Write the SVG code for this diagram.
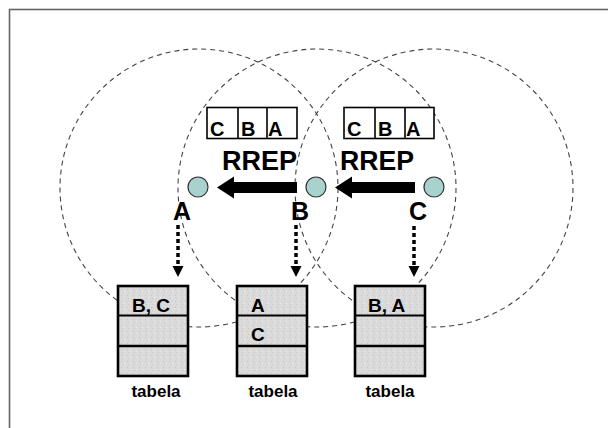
<svg xmlns="http://www.w3.org/2000/svg" width="608" height="428" viewBox="0 0 608 428">
<style>
.range{fill:none;stroke:#444;stroke-width:1.1;stroke-dasharray:5 4}
.node{fill:#a8d2cd;stroke:#333;stroke-width:1.2}
.pkt{fill:#fff;stroke:#000;stroke-width:1.6}
.tbl{fill:url(#spk);stroke:#000;stroke-width:2.6}
.t{font-family:"Liberation Sans",Arial,sans-serif;font-weight:bold;fill:#000}
.big{font-size:27px}
.lbl{font-size:25px}
.cell{font-size:20px}
.row{font-size:19px}
.cap{font-size:17px;text-anchor:middle}
.dot{stroke:#000;stroke-width:3.5;stroke-dasharray:4 3;fill:none}
</style>
<defs>
<pattern id="spk" width="6" height="6" patternUnits="userSpaceOnUse">
<rect width="6" height="6" fill="#dadada"/>
<rect x="1" y="1" width="1" height="1" fill="#c4c4c4"/>
<rect x="4" y="3" width="1" height="1" fill="#eeeeee"/>
<rect x="2" y="4" width="1" height="1" fill="#c8c8c8"/>
</pattern>
</defs>
<rect x="9.5" y="9.5" width="640" height="460" fill="#fff" stroke="#666" stroke-width="1.6"/>
<g id="ranges">
<circle class="range" cx="199" cy="188" r="139"/>
<circle class="range" cx="317" cy="188" r="139"/>
<circle class="range" cx="434" cy="188" r="139"/>
</g>
<g id="connectors">
<polygon points="217,187.5 234,176.5 234,182 297,182 297,193 234,193 234,198.5" fill="#000"/>
<polygon points="335,187.5 352,176.5 352,182 415,182 415,193 352,193 352,198.5" fill="#000"/>
<line class="dot" x1="178" y1="225" x2="178" y2="267"/>
<polygon points="172.5,266 183.5,266 178,277" fill="#000"/>
<line class="dot" x1="296" y1="225" x2="296" y2="267"/>
<polygon points="290.5,266 301.5,266 296,277" fill="#000"/>
<line class="dot" x1="414" y1="226" x2="414" y2="267"/>
<polygon points="408.5,266 419.5,266 414,277" fill="#000"/>
</g>
<g id="packet1">
<rect class="pkt" x="207" y="107.5" width="90" height="31"/>
<line x1="238" y1="107.5" x2="238" y2="138.5" stroke="#000" stroke-width="1.6"/>
<line x1="267" y1="107.5" x2="267" y2="138.5" stroke="#000" stroke-width="1.6"/>
<text class="t cell" x="210" y="136">C</text>
<text class="t cell" x="241" y="136">B</text>
<text class="t cell" x="268" y="136">A</text>
</g>
<g id="packet2">
<rect class="pkt" x="344" y="107.5" width="90" height="31"/>
<line x1="375" y1="107.5" x2="375" y2="138.5" stroke="#000" stroke-width="1.6"/>
<line x1="405" y1="107.5" x2="405" y2="138.5" stroke="#000" stroke-width="1.6"/>
<text class="t cell" x="347" y="136">C</text>
<text class="t cell" x="378" y="136">B</text>
<text class="t cell" x="406" y="136">A</text>
</g>
<g id="rrep1"><text class="t big" x="222" y="170" textLength="75" lengthAdjust="spacingAndGlyphs">RREP</text></g>
<g id="rrep2"><text class="t big" x="340" y="170" textLength="74" lengthAdjust="spacingAndGlyphs">RREP</text></g>
<g id="nodeA">
<circle class="node" cx="198" cy="187" r="10"/>
<text class="t lbl" x="182" y="220" text-anchor="middle">A</text>
</g>
<g id="nodeB">
<circle class="node" cx="316" cy="187" r="10"/>
<text class="t lbl" x="300" y="220" text-anchor="middle">B</text>
</g>
<g id="nodeC">
<circle class="node" cx="434" cy="187" r="10"/>
<text class="t lbl" x="418" y="220" text-anchor="middle">C</text>
</g>
<g id="tableA">
<rect class="tbl" x="118" y="286" width="70" height="90"/>
<line x1="118" y1="315.5" x2="188" y2="315.5" stroke="#000" stroke-width="2"/>
<line x1="118" y1="346" x2="188" y2="346" stroke="#000" stroke-width="2.6"/>
<text class="t row" x="132" y="312">B, C</text>
<text class="t cap" x="156" y="397">tabela</text>
</g>
<g id="tableB">
<rect class="tbl" x="237" y="286" width="70" height="90"/>
<line x1="237" y1="315.5" x2="307" y2="315.5" stroke="#000" stroke-width="2"/>
<line x1="237" y1="346" x2="307" y2="346" stroke="#000" stroke-width="2.6"/>
<text class="t row" x="251" y="312">A</text>
<text class="t row" x="251" y="341">C</text>
<text class="t cap" x="273" y="397">tabela</text>
</g>
<g id="tableC">
<rect class="tbl" x="355" y="286" width="70" height="90"/>
<line x1="355" y1="315.5" x2="425" y2="315.5" stroke="#000" stroke-width="2"/>
<line x1="355" y1="346" x2="425" y2="346" stroke="#000" stroke-width="2.6"/>
<text class="t row" x="368" y="312">B, A</text>
<text class="t cap" x="390" y="397">tabela</text>
</g>
</svg>
